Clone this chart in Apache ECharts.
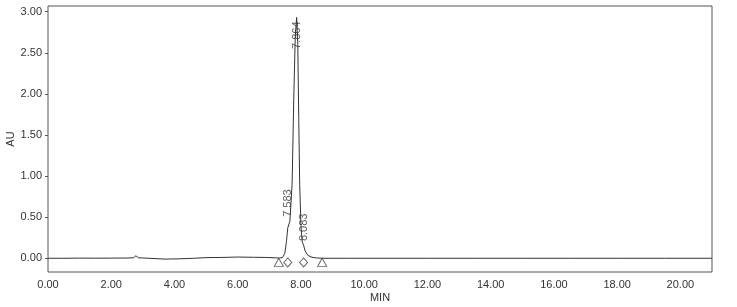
<!DOCTYPE html>
<html>
<head>
<meta charset="utf-8">
<script src="https://cdn.jsdelivr.net/npm/echarts@6/dist/echarts.min.js"></script>
<style>
html,body{margin:0;padding:0;background:#fff;}
#c{width:737px;height:307px;}
</style>
</head>
<body>
<div id="c"></div>
<script>
// Chromatogram trace (time in MIN, absorbance in AU)
const timeMin = [0, 0.5, 1.0, 1.5, 2.0, 2.5, 2.7, 2.78, 2.86, 3.2, 3.7, 4.2, 4.6, 5.0, 5.5, 6.0, 6.5, 6.9, 7.2,
  7.32, 7.42, 7.49, 7.54, 7.583, 7.65, 7.72, 7.77, 7.82, 7.864, 7.90, 7.93, 7.96, 8.00, 8.04, 8.083, 8.13, 8.22, 8.35, 8.5, 8.67,
  9.5, 10.5, 12.0, 13.5, 15.0, 16.5, 18.0, 19.5, 21.0];
const signalAU = [0, 0, 0.002, 0.001, 0.002, 0.003, 0.006, 0.03, 0.006, 0.0, -0.01, -0.006, 0.0, 0.008, 0.01, 0.015, 0.012, 0.01, 0.005,
  0.003, 0.01, 0.06, 0.2, 0.37, 0.45, 0.9, 1.9, 2.7, 2.93, 2.6, 1.7, 0.9, 0.4, 0.2, 0.16, 0.09, 0.035, 0.012, 0.004, 0.0,
  0.0, 0.0, 0.0, 0.0, 0.0, 0.0, 0.0, 0.0, 0.0];

// Peak annotations
const peakTimes = [7.583, 7.864, 8.083];
const peakHeights = [0.37, 2.93, 0.16];

// Integration markers (start/end triangles, peak diamonds)
const markerLevel = -0.05;
const startEndTimes = [7.30, 8.67];
const apexMarkTimes = [7.583, 8.083];

// Axis ticks
const xTicks = [0, 2, 4, 6, 8, 10, 12, 14, 16, 18, 20];
const yTicks = [0, 0.5, 1.0, 1.5, 2.0, 2.5, 3.0];

const chart = echarts.init(document.getElementById('c'), null, {renderer: 'canvas'});
const FONT = 'Liberation Sans, Arial, sans-serif';
const TXT = '#333';

const labelCfg = [
  {position: 'top', rotate: 90, align: 'left', verticalAlign: 'middle', distance: 13, offset: [-2, 0]},
  {position: 'bottom', rotate: 90, align: 'right', verticalAlign: 'middle', distance: 4, offset: [0, 0]},
  {position: 'top', rotate: 90, align: 'left', verticalAlign: 'middle', distance: 2, offset: [2, 0]}
];

chart.setOption({
  animation: false,
  backgroundColor: '#fff',
  grid: {left: 48, right: 25, top: 6, bottom: 35, show: true, borderColor: '#555', borderWidth: 1,
    containLabel: false, outerBoundsMode: 'none'},
  xAxis: {
    type: 'value', min: 0, max: 21,
    name: 'MIN', nameLocation: 'middle', nameGap: 20, nameMoveOverlap: false,
    nameTextStyle: {fontFamily: FONT, fontSize: 11, color: TXT},
    axisLine: {show: false},
    axisTick: {show: false},
    splitLine: {show: false},
    axisLabel: {customValues: xTicks, fontFamily: FONT, fontSize: 11, color: TXT, margin: 7,
      formatter: v => v.toFixed(2)}
  },
  yAxis: {
    type: 'value', min: -0.167, max: 3.069,
    name: 'AU', nameLocation: 'middle', nameGap: 32, nameRotate: 90, nameMoveOverlap: false,
    nameTextStyle: {fontFamily: FONT, fontSize: 11, color: TXT},
    axisLine: {show: false},
    axisTick: {show: true, customValues: yTicks, length: 3, lineStyle: {color: '#555'}},
    splitLine: {show: false},
    axisLabel: {customValues: yTicks, fontFamily: FONT, fontSize: 11, color: TXT, margin: 6,
      formatter: v => v.toFixed(2)}
  },
  series: [
    {
      type: 'line', name: 'signal', symbol: 'none', silent: true,
      data: timeMin.map((t, i) => [t, signalAU[i]]),
      lineStyle: {color: '#333', width: 1}
    },
    {
      type: 'scatter', name: 'peaks', symbolSize: 0, silent: true,
      data: peakTimes.map((t, i) => ({
        value: [t, peakHeights[i]],
        label: Object.assign({show: true, formatter: t.toFixed(3), fontFamily: FONT, fontSize: 11, color: TXT}, labelCfg[i])
      }))
    },
    {
      type: 'scatter', name: 'startEnd', symbol: 'triangle', symbolSize: [9, 8], silent: true,
      data: startEndTimes.map(t => [t, markerLevel]),
      itemStyle: {color: '#fff', borderColor: '#444', borderWidth: 1}
    },
    {
      type: 'scatter', name: 'apexMarks', symbol: 'diamond', symbolSize: [8, 9], silent: true,
      data: apexMarkTimes.map(t => [t, markerLevel]),
      itemStyle: {color: '#fff', borderColor: '#444', borderWidth: 1}
    }
  ]
});
</script>
</body>
</html>
